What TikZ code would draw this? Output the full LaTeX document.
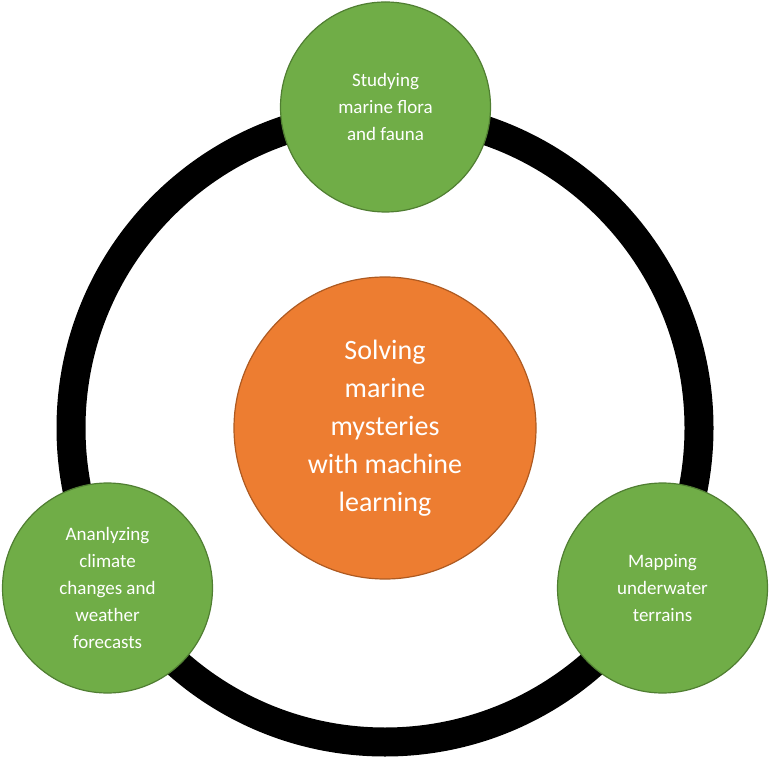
\documentclass[tikz,border=0pt]{standalone}
\usepackage{fontspec}
\setmainfont{Carlito}
\usetikzlibrary{positioning}
\definecolor{leaf}{HTML}{70AD47}
\definecolor{leafline}{HTML}{507E32}
\definecolor{core}{HTML}{ED7D31}
\definecolor{coreline}{HTML}{AE5A21}

\tikzset{
  topic/.style={circle, fill=leaf, draw=leafline, line width=1.2pt,
    minimum size=210pt, inner sep=0pt, text=white, align=center,
    font=\fontsize{19}{27}\selectfont},
  hub/.style={circle, fill=core, draw=coreline, line width=1.2pt,
    minimum size=302pt, inner sep=0pt, text=white, align=center,
    font=\fontsize{28}{38}\selectfont}
}

\begin{document}
\begin{tikzpicture}[x=1pt, y=1pt]
  \useasboundingbox (0, 0) rectangle (770, 758);

  % ring
  \draw[line width=29pt] (385, 330) circle (314);

  \node[hub] (hub) at (385, 330) {Solving\\marine\\mysteries\\with machine\\learning};

  \node[topic] (flora) at (385.5, 651) {Studying\\marine flora\\and fauna};
  \node[topic] (climate) at (107.5, 170) {Ananlyzing\\climate\\changes and\\weather\\forecasts};
  \node[topic] (terrain) at (662.5, 170) {Mapping\\underwater\\terrains};
\end{tikzpicture}
\end{document}
